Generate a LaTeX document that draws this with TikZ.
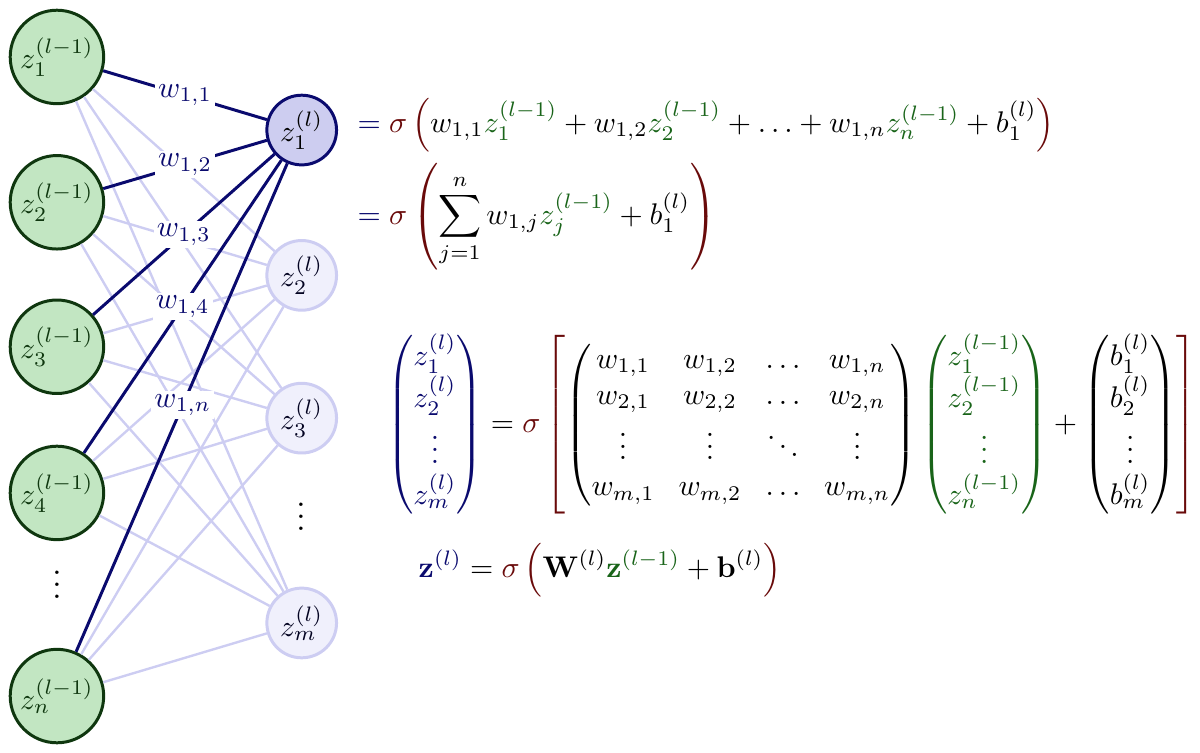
\documentclass[tikz,border=0pt]{standalone}
\usepackage{amsmath,amssymb}
\usetikzlibrary{positioning}

\definecolor{inborder}{RGB}{15,55,15}
\definecolor{infill}{RGB}{194,230,194}
\definecolor{outdark}{RGB}{10,10,110}
\definecolor{outfill}{RGB}{205,205,240}
\definecolor{outlight}{RGB}{205,205,242}
\definecolor{outpale}{RGB}{240,240,252}
\definecolor{sigred}{RGB}{105,10,10}
\definecolor{zgreen}{RGB}{25,100,25}

\newcommand{\gz}[1]{{\color{zgreen}z_{#1}^{(l-1)}}}

\tikzset{
  inneuron/.style={circle, draw=inborder, fill=infill, text=inborder, line width=1pt, minimum size=1.1cm, inner sep=0pt},
  outneuron/.style={circle, draw=outlight, fill=outpale, text=black!70!outdark, line width=1pt, minimum size=0.82cm, inner sep=0pt},
  activeneuron/.style={outneuron, draw=outdark, fill=outfill, text=black},
  lightedge/.style={draw=outlight, line width=0.8pt},
  darkedge/.style={draw=outdark, line width=1pt},
  weight/.style={fill=white, text=outdark, inner sep=1pt},
  formula/.style={anchor=west, inner sep=0pt},
}

\begin{document}
\begin{tikzpicture}
			\useasboundingbox (0,0) rectangle (14.12,-8.85);
			% layer l-1
			\node[inneuron] (z1) at (0.67,-0.67) {$z_1^{(l-1)}$};
			\node[inneuron] (z2) at (0.67,-2.38) {$z_2^{(l-1)}$};
			\node[inneuron] (z3) at (0.67,-4.08) {$z_3^{(l-1)}$};
			\node[inneuron] (z4) at (0.67,-5.80) {$z_4^{(l-1)}$};
			\node (zdots) at (0.67,-6.77) {\large$\vdots$};
			\node[inneuron] (zn) at (0.67,-8.19) {$z_n^{(l-1)}$};
			% layer l
			\node[activeneuron] (a1) at (3.55,-1.53) {$z_1^{(l)}$};
			\node[outneuron] (a2) at (3.55,-3.24) {$z_2^{(l)}$};
			\node[outneuron] (a3) at (3.55,-4.92) {$z_3^{(l)}$};
			\node (adots) at (3.55,-5.98) {\large$\vdots$};
			\node[outneuron] (am) at (3.55,-7.33) {$z_m^{(l)}$};
			% weights
			\foreach \i in {z1,z2,z3,z4,zn}
				\foreach \j in {a2,a3,am}
					\draw[lightedge] (\i) -- (\j);
			\draw[darkedge] (z1) -- node[weight] {$w_{1,1}$} (a1);
			\draw[darkedge] (z2) -- node[weight] {$w_{1,2}$} (a1);
			\draw[darkedge] (z3) -- node[weight] {$w_{1,3}$} (a1);
			\draw[darkedge] (z4) -- node[weight] {$w_{1,4}$} (a1);
			\draw[darkedge] (zn) -- node[weight,pos=0.505] {$w_{1,n}$} (a1);
			% equations
			\node[formula] (eqa) at (4.2,-1.47) {$\displaystyle\color{outdark}=\color{sigred}\sigma\left(\color{black}w_{1,1}\gz{1}+w_{1,2}\gz{2}+\ldots+w_{1,n}\gz{n}+b_1^{(l)}\color{sigred}\right)$};
			\node[formula] (eqb) at (4.2,-2.55) {$\displaystyle\color{outdark}=\color{sigred}\sigma\left(\color{black}\sum_{j=1}^{n}w_{1,j}\gz{j}+b_1^{(l)}\color{sigred}\right)$};
			\node[formula] (eqc) at (4.55,-5.0) {\setlength{\arraycolsep}{4pt}$\displaystyle{\color{outdark}\begin{pmatrix}z_1^{(l)}\\ z_2^{(l)}\\ \vdots\\ z_m^{(l)}\end{pmatrix}}=\color{sigred}\sigma\left[\color{black}\begin{pmatrix}w_{1,1}&w_{1,2}&\ldots&w_{1,n}\\ w_{2,1}&w_{2,2}&\ldots&w_{2,n}\\ \vdots&\vdots&\ddots&\vdots\\ w_{m,1}&w_{m,2}&\ldots&w_{m,n}\end{pmatrix}{\color{zgreen}\begin{pmatrix}z_1^{(l-1)}\\ z_2^{(l-1)}\\ \vdots\\ z_n^{(l-1)}\end{pmatrix}}+\begin{pmatrix}b_1^{(l)}\\ b_2^{(l)}\\ \vdots\\ b_m^{(l)}\end{pmatrix}\color{sigred}\right]$};
			\node[formula] (eqd) at (4.92,-6.71) {$\displaystyle\color{outdark}\mathbf{z}^{(l)}\color{black}=\color{sigred}\sigma\left(\color{black}\mathbf{W}^{(l)}{\color{zgreen}\mathbf{z}^{(l-1)}}+\mathbf{b}^{(l)}\color{sigred}\right)$};
\end{tikzpicture}
\end{document}
